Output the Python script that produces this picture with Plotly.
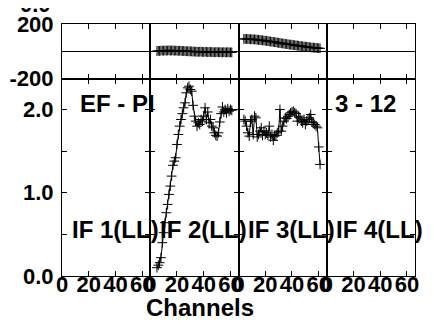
import plotly.graph_objects as go
from plotly.subplots import make_subplots

# IF 2 (LL): channels 5..61
if2_channels = list(range(5, 62))
if2_amp = [0.10, 0.13, 0.16, 0.22, 0.40, 0.52, 0.64, 0.76, 0.86, 0.98,
           1.08, 1.20, 1.33, 1.38, 1.42, 1.58, 1.70, 1.80, 1.88, 1.95,
           2.02, 2.08, 2.20, 2.26, 2.28, 2.24, 2.22, 2.05, 1.92, 1.86,
           1.80, 1.84, 1.82, 1.88, 1.86, 1.92, 2.02, 1.88, 1.97, 1.84,
           1.88, 1.80, 1.78, 1.72, 1.69, 1.68, 1.72, 1.85, 1.95, 2.03,
           1.97, 2.00, 1.96, 2.01, 1.98, 2.00, 1.99]
if2_phase = [2, 4, 3, 5, 6, 4, 7, 5, 6, 8,
             5, 6, 7, 4, 6, 5, 3, 5, 4, 2,
             3, 1, 2, 0, 1, -1, 0, -2, -1, -3,
             -2, -4, -3, -2, -4, -5, -3, -4, -6, -5,
             -4, -6, -5, -7, -6, -5, -7, -6, -8, -7,
             -6, -8, -7, -6, -8, -7, -8]

# IF 3 (LL): channels 4..61
if3_channels = list(range(4, 62))
if3_amp = [1.88, 1.86, 1.80, 1.72, 1.68, 1.86, 1.88, 1.70, 1.92, 1.90,
           1.67, 1.70, 1.74, 1.78, 1.69, 1.74, 1.70, 1.72, 1.69, 1.80,
           1.67, 1.70, 1.63, 1.68, 1.69, 1.72, 1.74, 2.00, 1.74, 1.80,
           1.86, 1.90, 1.89, 1.92, 1.94, 1.96, 1.97, 1.98, 1.96, 1.95,
           1.86, 1.92, 1.90, 1.86, 1.84, 1.88, 1.82, 1.86, 1.88, 1.90,
           1.94, 1.85, 1.84, 1.82, 1.80, 1.78, 1.55, 1.34]
if3_phase = [91, 90, 92, 89, 90, 88, 89, 87, 88, 86,
             85, 84, 83, 82, 80, 79, 78, 76, 75, 73,
             72, 70, 69, 67, 66, 64, 62, 61, 59, 58,
             56, 55, 53, 52, 50, 49, 48, 46, 45, 43,
             42, 41, 39, 38, 37, 35, 34, 33, 32, 30,
             29, 28, 27, 26, 25, 24, 23, 22]

if_labels = ['IF 1(LL)', 'IF 2(LL)', 'IF 3(LL)', 'IF 4(LL)']
chan_ticks = [0, 20, 40, 60]
amp_ticks = [0, 0.5, 1.0, 1.5, 2.0]
amp_ticktext = ['0.0', '', '1.0', '', '2.0']
phase_ticks = [-200, 200]
phase_ticktext = ['-200', '200']

# page body adds an 8px margin, so the figure is drawn 8px smaller and offset
OFF = 8
W, H = 434 - OFF, 324 - OFF
L, R, T, B = 62 - OFF, 19, 24 - OFF, 56 - OFF
TICKFONT = dict(family='Liberation Sans, Arial', size=22, color='black', weight='bold')
FONT = dict(TICKFONT, size=24)


def px(x, y):
    """screen pixel position -> paper coords"""
    x, y = x - OFF, y - OFF
    return (x - L) / (W - L - R), (H - B - y) / (H - T - B)


fig = make_subplots(rows=2, cols=4, horizontal_spacing=0, vertical_spacing=0,
                    row_heights=[0.217, 0.783])

style = dict(color='black', width=1)
mk = dict(symbol='cross-thin-open', size=7, line=dict(color='black', width=1))
panels = [(1, [], [], []),
          (2, if2_channels, if2_amp, if2_phase),
          (3, if3_channels, if3_amp, if3_phase),
          (4, [], [], [])]
for col, chans, amp, pha in panels:
    # empty IFs still need a trace so their axes get drawn
    fig.add_trace(go.Scatter(x=chans or [None], y=pha or [None], mode='lines+markers',
                             line=style, marker=mk, showlegend=False), row=1, col=col)
    fig.add_trace(go.Scatter(x=chans or [None], y=amp or [None], mode='lines+markers',
                             line=style, marker=mk, showlegend=False), row=2, col=col)

axis_common = dict(showline=True, linecolor='black', linewidth=1, mirror='ticks',
                   ticks='inside', ticklen=5, tickcolor='black', tickwidth=1,
                   showgrid=False, automargin=False, tickfont=TICKFONT)

for col in range(1, 5):
    for row in (1, 2):
        fig.update_xaxes(axis_common, range=[0, 66], tickvals=chan_ticks, tickangle=0,
                         showticklabels=(row == 2), zeroline=False,
                         ticklabelstandoff=-11, row=row, col=col)
    fig.update_yaxes(axis_common, range=[-200, 200], tickvals=phase_ticks,
                     ticktext=phase_ticktext, showticklabels=(col == 1),
                     zeroline=True, zerolinecolor='black', zerolinewidth=1,
                     ticklabelstandoff=3, row=1, col=col)
    fig.update_yaxes(axis_common, range=[0, 2.37], tickvals=amp_ticks,
                     ticktext=amp_ticktext, showticklabels=(col == 1), zeroline=False,
                     ticklabelstandoff=3, row=2, col=col)

annots = []
for i, lab in enumerate(if_labels):
    x, y = px(115 + 88 * i, 229)
    annots.append(dict(text=lab, x=x, y=y, xanchor='center', yanchor='middle'))
x, y = px(157, 103)
annots.append(dict(text='EF - PI', x=x, y=y, xanchor='right', yanchor='middle'))
x, y = px(333, 103)
annots.append(dict(text='3 - 12', x=x, y=y, xanchor='left', yanchor='middle'))
x, y = px(200, 307)
annots.append(dict(text='Channels', x=x, y=y, xanchor='center', yanchor='middle'))
x, y = px(35, 4)
annots.append(dict(text='0.0', x=x, y=y, xanchor='center', yanchor='middle',
                   font=TICKFONT))
for a in annots:
    a.update(xref='paper', yref='paper', showarrow=False)
    a.setdefault('font', FONT)

fig.update_layout(width=W, height=H, margin=dict(l=L, r=R, t=T, b=B, pad=0),
                  paper_bgcolor='white', plot_bgcolor='white', template='none',
                  annotations=annots)

fig.write_html("out.html")
